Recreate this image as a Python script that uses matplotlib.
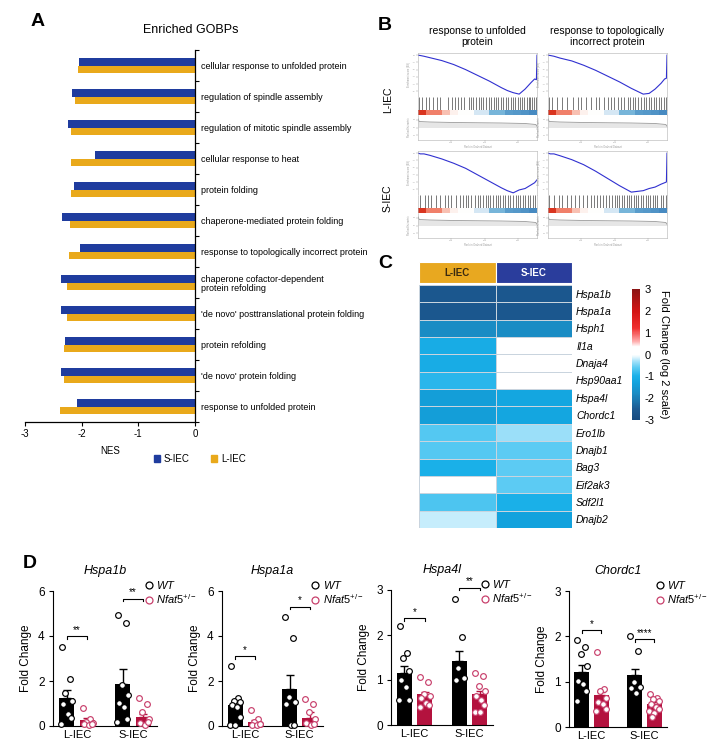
import numpy as np
import matplotlib
matplotlib.use("Agg")
import matplotlib.pyplot as plt
from matplotlib.colors import LinearSegmentedColormap
from matplotlib.lines import Line2D
from matplotlib.patches import Patch
from matplotlib.ticker import NullFormatter

plt.rcParams["font.family"] = ["Liberation Sans", "DejaVu Sans"]
plt.rcParams["mathtext.fontset"] = "custom"
plt.rcParams["mathtext.it"] = "Liberation Sans:italic"
plt.rcParams["mathtext.rm"] = "Liberation Sans"
plt.rcParams["axes.unicode_minus"] = False

# ---------------- Panel A data ----------------
GOBP_TERMS = [
    "cellular response to unfolded protein",
    "regulation of spindle assembly",
    "regulation of mitotic spindle assembly",
    "cellular response to heat",
    "protein folding",
    "chaperone-mediated protein folding",
    "response to topologically incorrect protein",
    "chaperone cofactor-dependent\nprotein refolding",
    "'de novo' posttranslational protein folding",
    "protein refolding",
    "'de novo' protein folding",
    "response to unfolded protein",
]
NES_SIEC = [-2.05, -2.17, -2.24, -1.76, -2.13, -2.35, -2.03, -2.36, -2.36, -2.29, -2.36, -2.08]
NES_LIEC = [-2.06, -2.12, -2.18, -2.18, -2.19, -2.21, -2.22, -2.26, -2.26, -2.31, -2.31, -2.38]

# ---------------- Panel B data ----------------
GSEA_COLS = ["response to unfolded\nprotein", "response to topologically\nincorrect protein"]
GSEA_ROWS = ["L-IEC", "S-IEC"]
RANK_POS = [0, 0.02, 0.05, 0.1, 0.2, 0.3, 0.4, 0.5, 0.6, 0.7, 0.75, 0.8, 0.85, 0.9, 0.95, 0.98, 0.995, 1.0]
ES_L_UNF = [0, -0.005, -0.015, -0.035, -0.075, -0.13, -0.2, -0.28, -0.36, -0.45, -0.49, -0.52, -0.54, -0.47, -0.38, -0.33, -0.34, 0.0]
ES_L_TOP = [0, -0.005, -0.015, -0.04, -0.08, -0.14, -0.21, -0.29, -0.37, -0.46, -0.5, -0.54, -0.53, -0.47, -0.39, -0.33, -0.32, 0.0]
ES_S_UNF = [0, -0.01, -0.01, -0.03, -0.08, -0.14, -0.21, -0.3, -0.39, -0.48, -0.52, -0.55, -0.51, -0.49, -0.44, -0.41, -0.38, -0.37]
ES_S_TOP = [0, -0.01, -0.01, -0.035, -0.09, -0.16, -0.25, -0.35, -0.45, -0.54, -0.53, -0.52, -0.49, -0.47, -0.43, -0.41, -0.40, 0.0]
HITS_L_UNF = [0.006, 0.034, 0.068, 0.09, 0.124, 0.16, 0.189, 0.254, 0.282, 0.31, 0.335, 0.358, 0.386, 0.428,
              0.442, 0.462, 0.485, 0.513, 0.527, 0.546, 0.575, 0.597, 0.617, 0.64, 0.659, 0.676, 0.696, 0.715,
              0.738, 0.758, 0.78, 0.8, 0.817, 0.837, 0.856, 0.873, 0.893, 0.913, 0.93, 0.941, 0.958, 0.977, 0.99]
HITS_L_TOP = [0.008, 0.037, 0.079, 0.121, 0.163, 0.206, 0.248, 0.276, 0.318, 0.361, 0.403, 0.431, 0.473, 0.501,
              0.529, 0.558, 0.586, 0.614, 0.642, 0.67, 0.69, 0.713, 0.735, 0.755, 0.783, 0.803, 0.825, 0.848,
              0.868, 0.887, 0.91, 0.93, 0.952, 0.972, 0.989]
HITS_S_UNF = [0.014, 0.056, 0.084, 0.112, 0.148, 0.182, 0.224, 0.252, 0.28, 0.322, 0.35, 0.378, 0.401, 0.42,
              0.448, 0.476, 0.504, 0.524, 0.546, 0.569, 0.588, 0.608, 0.63, 0.653, 0.672, 0.692, 0.714, 0.734,
              0.756, 0.776, 0.798, 0.821, 0.84, 0.86, 0.882, 0.902, 0.924, 0.944, 0.966, 0.986]
HITS_S_TOP = [0.01, 0.05, 0.09, 0.12, 0.16, 0.19, 0.23, 0.26, 0.29, 0.33, 0.36, 0.39, 0.41, 0.44, 0.46, 0.49,
              0.51, 0.54, 0.56, 0.58, 0.6, 0.62, 0.64, 0.66, 0.68, 0.7, 0.72, 0.74, 0.76, 0.78, 0.8, 0.82, 0.84,
              0.86, 0.88, 0.9, 0.92, 0.95, 0.97, 0.99]
RANK_BANDS = [2.5, 1.5, 1.5, 0.7, 0.15, 0.0, 0.0, -0.3, -0.3, -0.9, -0.9, -1.4, -1.5, -1.6, -1.8]
METRIC_POS = [0, 0.01, 0.1, 0.3, 0.5, 0.7, 0.9, 0.99, 1.0]
RANK_METRIC = [0.85, 0.74, 0.72, 0.7, 0.69, 0.68, 0.66, 0.62, 0.55]

# ---------------- Panel C data ----------------
HEAT_GENES = ["Hspa1b", "Hspa1a", "Hsph1", "Il1a", "Dnaja4", "Hsp90aa1", "Hspa4l", "Chordc1",
              "Ero1lb", "Dnajb1", "Bag3", "Eif2ak3", "Sdf2l1", "Dnajb2"]
FC_LIEC = [-2.6, -2.6, -1.8, -1.1, -1.1, -0.9, -1.4, -1.4, -0.65, -0.65, -1.0, 0.0, -0.7, -0.2]
FC_SIEC = [-2.6, -2.6, -1.8, 0.0, 0.0, 0.0, -1.2, -1.2, -0.35, -0.6, -0.6, -0.6, -1.0, -1.3]
HEAT_COLS = ["L-IEC", "S-IEC"]

# ---------------- Panel D data ----------------
D_GENES = ["Hspa1b", "Hspa1a", "Hspa4l", "Chordc1"]
D_YMAX = [6, 6, 3, 3]
D_YTICKS = [[0, 2, 4, 6], [0, 2, 4, 6], [0, 1, 2, 3], [0, 1, 2, 3]]
# order in each group: WT L-IEC, Nfat5 L-IEC, WT S-IEC, Nfat5 S-IEC
D_MEANS = [[1.24, 0.25, 1.88, 0.40],
           [0.92, 0.17, 1.66, 0.36],
           [1.15, 0.68, 1.42, 0.69],
           [1.21, 0.70, 1.14, 0.50]]
D_ERRTOP = [[1.58, 0.36, 2.55, 0.52],
            [1.12, 0.28, 2.28, 0.62],
            [1.31, 0.74, 1.64, 0.76],
            [1.37, 0.78, 1.29, 0.55]]
D_POINTS = [
    [[3.52, 2.1, 1.45, 1.1, 1.0, 0.55, 0.35, 0.1],
     [0.8, 0.3, 0.2, 0.12, 0.08, 0.05, 0.1],
     [4.93, 4.58, 1.84, 1.36, 1.02, 0.85, 0.33, 0.18],
     [1.26, 1.0, 0.62, 0.3, 0.15, 0.05, 0.2]],
    [[2.65, 1.26, 1.1, 1.05, 0.95, 0.85, 0.4, 0.05, 0.05],
     [0.73, 0.3, 0.2, 0.08, 0.05, 0.05, 0.1],
     [4.84, 3.93, 1.29, 1.05, 0.96, 0.05, 0.05],
     [1.21, 1.0, 0.62, 0.3, 0.15, 0.05, 0.1]],
    [[2.2, 1.61, 1.48, 1.2, 0.99, 0.84, 0.55, 0.55],
     [1.07, 0.95, 0.7, 0.65, 0.6, 0.5, 0.45, 0.4],
     [2.8, 1.95, 1.26, 1.05, 1.0],
     [1.15, 1.08, 0.87, 0.75, 0.65, 0.55, 0.45, 0.3, 0.3]],
    [[1.93, 1.77, 1.62, 1.35, 1.01, 0.95, 0.79, 0.57],
     [1.66, 0.84, 0.79, 0.65, 0.55, 0.5, 0.4, 0.35],
     [2.0, 1.68, 0.99, 0.88, 0.85, 0.76],
     [0.73, 0.65, 0.62, 0.58, 0.5, 0.45, 0.4, 0.35, 0.3, 0.22]],
]
D_BRACKETS = [[4.0, 5.66], [3.1, 5.3], [2.37, 3.05], [2.14, 1.94]]
D_STARS = [["**", "**"], ["*", "*"], ["*", "**"], ["*", "****"]]
D_GROUPS = ["L-IEC", "S-IEC"]

# ---------------- styles ----------------
BLUE = "#1f3c9e"
GOLD = "#e9a91b"
CRIMSON = "#b3123e"
KO_EDGE = "#c8406c"

W, H = 716, 750
fig = plt.figure(figsize=(W / 100, H / 100), dpi=100)


def px_axes(x0, y0, x1, y1):
    return fig.add_axes([x0 / W, 1 - y1 / H, (x1 - x0) / W, (y1 - y0) / H])


def letter(x, y, s):
    fig.text(x / W, 1 - y / H, s, fontsize=14, weight="bold", ha="center", va="center")


# ============================================================
# A. Enriched GOBPs
# ============================================================
letter(38, 22, "A")
fig.text(191 / W, 1 - 30 / H, "Enriched GOBPs", fontsize=9, ha="center", va="center")

axA = px_axes(25, 50, 195, 422)
yy = np.arange(len(GOBP_TERMS))
axA.barh(yy - 0.125, NES_SIEC, height=0.25, color=BLUE)
axA.barh(yy + 0.125, NES_LIEC, height=0.25, color=GOLD)
axA.set_xlim(-3, 0)
axA.set_ylim(len(yy) - 0.5, -0.5)
axA.spines[["left", "top"]].set_visible(False)
axA.yaxis.tick_right()
axA.set_yticks(np.arange(-0.5, len(yy)))
axA.yaxis.set_major_formatter(NullFormatter())
axA.set_yticks(yy, minor=True)
axA.set_yticklabels(GOBP_TERMS, minor=True, fontsize=6.5, linespacing=1.05)
axA.tick_params(axis="y", which="major", length=3, width=0.8)
axA.tick_params(axis="y", which="minor", length=0, pad=4)
axA.set_xticks([-3, -2, -1, 0])
axA.tick_params(axis="x", length=3, labelsize=7, pad=2)
axA.set_xlabel("NES", fontsize=7, labelpad=5, x=0.5)
for s in ["bottom", "right"]:
    axA.spines[s].set_linewidth(0.9)
fig.legend(handles=[Patch(color=BLUE, label="S-IEC"), Patch(color=GOLD, label="L-IEC")],
           loc="center", bbox_to_anchor=(200 / W, 1 - 459 / H), ncol=2, frameon=False,
           fontsize=7, handlelength=0.6, handleheight=0.6, columnspacing=2.2, handletextpad=0.4)

# ============================================================
# B. GSEA plots
# ============================================================
letter(385, 26, "B")
rank_cmap = LinearSegmentedColormap.from_list(
    "rank", [(0.0, "#2b6cb0"), (0.3, "#6aaed6"), (0.44, "#d6e8f5"), (0.5, "#ffffff"),
             (0.6, "#fbd0c4"), (0.8, "#f0806a"), (1.0, "#d9341f")])

ES_SETS = [[ES_L_UNF, ES_L_TOP], [ES_S_UNF, ES_S_TOP]]
HIT_SETS = [[HITS_L_UNF, HITS_L_TOP], [HITS_S_UNF, HITS_S_TOP]]
col_x = [418, 548]
row_y = [53, 151]
GW = 119


def frame_style(a):
    for sp in a.spines.values():
        sp.set_color("#b0b0b0")
        sp.set_linewidth(0.4)
    a.set_xticks([])
    a.set_yticks([])


for ci, title in enumerate(GSEA_COLS):
    fig.text((col_x[ci] + GW / 2) / W, 1 - 47 / H, title, fontsize=7.5, ha="center", va="bottom",
             linespacing=1.1)
for ri, lab in enumerate(GSEA_ROWS):
    fig.text(388 / W, 1 - (row_y[ri] + 47) / H, lab, fontsize=7.5, rotation=90, ha="center", va="center")
    for ci in range(2):
        x0 = col_x[ci]
        y0 = row_y[ri]
        ax_es = px_axes(x0, y0, x0 + GW, y0 + 44)
        ax_es.plot(RANK_POS, ES_SETS[ri][ci], color="#3030d0", lw=0.8)
        ax_es.set_xlim(0, 1)
        ax_es.set_ylim(-0.58, 0.03)
        frame_style(ax_es)
        ax_es.set_yticks([0, -0.1, -0.2, -0.3, -0.4, -0.5])
        ax_es.tick_params(axis="y", length=1.2, width=0.3, color="#999", labelsize=1.5, labelcolor="#aaa", pad=0.5)
        ax_es.set_ylabel("Enrichment score (ES)", fontsize=1.8, color="#999", labelpad=1)
        ax_es.spines["bottom"].set_visible(False)

        ax_hit = px_axes(x0, y0 + 44, x0 + GW, y0 + 57)
        ax_hit.vlines(HIT_SETS[ri][ci], 0, 1, color="#1e1e1e", lw=0.55, alpha=0.75)
        ax_hit.set_xlim(0, 1)
        ax_hit.set_ylim(0, 1)
        frame_style(ax_hit)
        ax_hit.spines[["top", "bottom"]].set_visible(False)

        ax_col = px_axes(x0, y0 + 57, x0 + GW, y0 + 62)
        ax_col.imshow([RANK_BANDS], aspect="auto", cmap=rank_cmap, vmin=-2.5, vmax=2.5,
                      extent=(0, 1, 0, 1), interpolation="nearest")
        frame_style(ax_col)
        ax_col.spines[["top", "bottom"]].set_visible(False)

        ax_met = px_axes(x0, y0 + 62, x0 + GW, y0 + 87)
        ax_met.fill_between(METRIC_POS, 0.5, RANK_METRIC, color="#e6e6e6", lw=0)
        ax_met.plot(METRIC_POS, RANK_METRIC, color="#9a9a9a", lw=0.6)
        ax_met.set_xlim(0, 1)
        ax_met.set_ylim(0, 1)
        frame_style(ax_met)
        ax_met.spines["top"].set_visible(False)
        ax_met.set_xticks([0.28, 0.56, 0.84])
        ax_met.set_yticks([0.2, 0.5, 0.8])
        ax_met.tick_params(length=1.2, width=0.3, color="#999", labelsize=1.5, labelcolor="#aaa", pad=0.5)
        ax_met.set_xlabel("Rank in Ordered Dataset", fontsize=1.8, color="#999", labelpad=1.5)
        ax_met.set_ylabel("Ranked list metric", fontsize=1.8, color="#999", labelpad=1)

# ============================================================
# C. Heatmap
# ============================================================
letter(385, 263, "C")
fc_cmap = LinearSegmentedColormap.from_list(
    "fc", [(0.0, "#174b80"), (0.083, "#1c5a92"), (0.2, "#1a8cc4"), (0.283, "#12a2dd"),
           (0.333, "#1ab0e8"), (0.4, "#5ccbf3"), (0.45, "#a5e2fa"), (0.483, "#e6f7fd"),
           (0.5, "#ffffff"), (0.56, "#ffffff"), (0.6, "#ffb0b0"), (0.7, "#f03030"),
           (0.83, "#d41515"), (1.0, "#8b1414")])

ax_hdr = px_axes(419, 262, 572, 283)
ax_hdr.bar([0.5, 1.5], [1, 1], width=1, color=["#e8a820", "#2a3d9c"], edgecolor="white", linewidth=0.8)
ax_hdr.text(0.5, 0.5, HEAT_COLS[0], ha="center", va="center", fontsize=7, weight="bold", color="#3a2a10")
ax_hdr.text(1.5, 0.5, HEAT_COLS[1], ha="center", va="center", fontsize=7, weight="bold", color="white")
ax_hdr.set_xlim(0, 2)
ax_hdr.set_ylim(0, 1)
ax_hdr.axis("off")

axC = px_axes(419, 285, 572, 528)
heat = np.column_stack([FC_LIEC, FC_SIEC])
mesh = axC.pcolormesh(heat, cmap=fc_cmap, vmin=-3, vmax=3, edgecolors="#c9d4de", linewidth=0.4)
axC.set_xlim(0, 2)
axC.set_ylim(len(HEAT_GENES), 0)
axC.set_xticks([])
axC.yaxis.tick_right()
axC.set_yticks(np.arange(len(HEAT_GENES)) + 0.5)
axC.set_yticklabels(HEAT_GENES, fontsize=7.5, style="italic")
axC.tick_params(axis="y", length=0, pad=3)
for sp in axC.spines.values():
    sp.set_visible(False)

cax = px_axes(632, 289, 640, 420)
cb = fig.colorbar(mesh, cax=cax, ticks=range(-3, 4))
cb.outline.set_visible(False)
cax.tick_params(length=0, labelsize=8, pad=3)
cb.set_label("Fold Change (log 2 scale)", rotation=270, fontsize=8, labelpad=11)

# ============================================================
# D. qPCR bar charts
# ============================================================
letter(30, 563, "D")
D_AXES = [(53, 591, 157, 726), (222, 591, 323, 726), (391, 590, 493, 725), (569, 591, 667, 727)]
BAR_X = [0.13, 0.33, 0.67, 0.87]
BAR_W = 0.15
JITTER = [-0.045, 0.03, -0.01, 0.05, -0.035, 0.015, 0.045, -0.05, 0.0, -0.02]

for gi, gene in enumerate(D_GENES):
    ax = px_axes(*D_AXES[gi])
    colors = ["black", CRIMSON, "black", CRIMSON]
    edges = ["black", KO_EDGE, "black", KO_EDGE]
    for k in range(4):
        m = D_MEANS[gi][k]
        ax.bar(BAR_X[k], m, width=BAR_W, color=colors[k], zorder=2)
        ax.errorbar(BAR_X[k], m, yerr=[[0], [D_ERRTOP[gi][k] - m]], color=colors[k],
                    capsize=3, elinewidth=1, capthick=1, zorder=1)
        pts = D_POINTS[gi][k]
        xs = [BAR_X[k] + JITTER[i % len(JITTER)] for i in range(len(pts))]
        ax.scatter(xs, pts, s=17, facecolor="white", edgecolor=edges[k], linewidth=0.85, zorder=3,
                   clip_on=False)
    ymax = D_YMAX[gi]
    for j in range(2):
        xa, xb = BAR_X[2 * j], BAR_X[2 * j + 1]
        yb = D_BRACKETS[gi][j]
        d = ymax * 0.02
        ax.plot([xa, xa, xb, xb], [yb - d, yb, yb, yb - d], color="black", lw=0.8, clip_on=False)
        ax.text((xa + xb) / 2, yb + ymax * 0.01, D_STARS[gi][j], ha="center", va="bottom", fontsize=7)
    ax.set_xlim(0, 1)
    ax.set_ylim(0, ymax)
    ax.set_yticks(D_YTICKS[gi])
    ax.set_xticks([(BAR_X[0] + BAR_X[1]) / 2, (BAR_X[2] + BAR_X[3]) / 2])
    ax.set_xticklabels(D_GROUPS)
    ax.tick_params(axis="x", length=0, labelsize=8, pad=3)
    ax.tick_params(axis="y", length=3, labelsize=8.5, pad=3)
    ax.spines[["top", "right"]].set_visible(False)
    ax.set_ylabel("Fold Change", fontsize=8.5, labelpad=4)
    ax.set_title(gene, fontsize=9, style="italic", pad=12)
    handles = [Line2D([], [], marker="o", ls="", mfc="white", mec="black", mew=0.9, ms=5),
               Line2D([], [], marker="o", ls="", mfc="white", mec=KO_EDGE, mew=0.9, ms=5)]
    ax.legend(handles, ["$WT$", "$Nfat5^{+/-}$"], loc="center left", bbox_to_anchor=(0.88, 0.99),
              frameon=False, fontsize=8, handlelength=0.8, handletextpad=0.25, labelspacing=0.05,
              borderpad=0, borderaxespad=0)

fig.savefig("out.png", dpi=100)
